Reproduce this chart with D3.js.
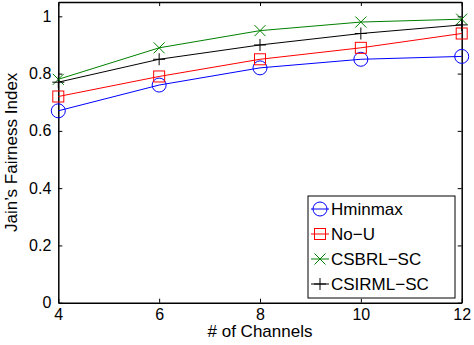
<!DOCTYPE html>
<html>
<head>
<meta charset="utf-8">
<script src="https://cdn.jsdelivr.net/npm/d3@7"></script>
<style>
  body { margin: 0; background: #fff; }
  svg text { font-family: "Liberation Sans", Arial, Helvetica, sans-serif; fill: #000; }
</style>
</head>
<body>
<div id="chart"></div>
<script>
const width = 474;
const height = 345;

// Data
const channels = [4, 6, 8, 10, 12];
const hminmax = [0.67, 0.76, 0.82, 0.85, 0.86];
const noU = [0.72, 0.79, 0.85, 0.89, 0.94];
const csbrlSc = [0.78, 0.89, 0.95, 0.98, 0.99];
const csirmlSc = [0.77, 0.85, 0.90, 0.94, 0.97];
const seriesNames = ["Hminmax", "No\u2212U", "CSBRL\u2212SC", "CSIRML\u2212SC"];
const yTicks = [0, 0.2, 0.4, 0.6, 0.8, 1];
const xTicks = [4, 6, 8, 10, 12];

const series = [
  { name: seriesNames[0], values: hminmax, color: "#0000ff", marker: "circle" },
  { name: seriesNames[1], values: noU, color: "#ff0000", marker: "square" },
  { name: seriesNames[2], values: csbrlSc, color: "#008000", marker: "x" },
  { name: seriesNames[3], values: csirmlSc, color: "#000000", marker: "plus" }
];

const margin = { top: 2, right: 12.3, bottom: 42.3, left: 58.3 };
const innerW = width - margin.left - margin.right;
const innerH = height - margin.top - margin.bottom;

const svg = d3.select("#chart")
  .append("svg")
  .attr("width", width)
  .attr("height", height);

const g = svg.append("g")
  .attr("transform", `translate(${margin.left},${margin.top})`);

const x = d3.scaleLinear().domain([4, 12]).range([0, innerW]);
const y = d3.scaleLinear().domain([0, 1.05]).range([innerH, 0]);

const fmt = d => d === 0 ? "0" : d === 1 ? "1" : d3.format(".1f")(d);

// axes (ticks inward, box on)
const tickLen = 4;
const bottomAxis = g.append("g")
  .attr("transform", `translate(0,${innerH})`)
  .call(d3.axisBottom(x).tickValues(xTicks).tickSizeInner(-tickLen).tickSizeOuter(0).tickPadding(6));
const leftAxis = g.append("g")
  .call(d3.axisLeft(y).tickValues(yTicks).tickFormat(fmt).tickSizeInner(-tickLen).tickSizeOuter(0).tickPadding(7));
const topAxis = g.append("g")
  .call(d3.axisTop(x).tickValues(xTicks).tickFormat("").tickSizeInner(-tickLen).tickSizeOuter(0));
const rightAxis = g.append("g")
  .attr("transform", `translate(${innerW},0)`)
  .call(d3.axisRight(y).tickValues(yTicks).tickFormat("").tickSizeInner(-tickLen).tickSizeOuter(0));

[bottomAxis, leftAxis, topAxis, rightAxis].forEach(a => {
  a.select(".domain").attr("stroke", "#000").attr("stroke-width", 1.5);
  a.selectAll(".tick line").attr("stroke", "#000").attr("stroke-width", 1);
  a.selectAll("text").style("font-size", "16px").attr("fill", "#000");
});

// axis labels
g.append("text")
  .attr("x", innerW / 2)
  .attr("y", innerH + 34)
  .attr("text-anchor", "middle")
  .style("font-size", "17px")
  .text("# of Channels");

g.append("text")
  .attr("transform", `translate(${-41},${innerH / 2}) rotate(-90)`)
  .attr("text-anchor", "middle")
  .style("font-size", "17px")
  .text("Jain\u2019s Fairness Index");

function drawMarker(sel, type, color) {
  if (type === "circle") {
    sel.append("circle").attr("r", 7).attr("fill", "none").attr("stroke", color).attr("stroke-width", 1);
  } else if (type === "square") {
    sel.append("rect").attr("x", -5.5).attr("y", -5.5).attr("width", 11).attr("height", 11)
      .attr("fill", "none").attr("stroke", color).attr("stroke-width", 1);
  } else if (type === "x") {
    sel.append("path").attr("d", "M-5.5,-5.5L5.5,5.5M-5.5,5.5L5.5,-5.5")
      .attr("stroke", color).attr("stroke-width", 1);
  } else {
    sel.append("path").attr("d", "M-6,0L6,0M0,-6L0,6")
      .attr("stroke", color).attr("stroke-width", 1);
  }
}

const line = d3.line()
  .x((d, i) => x(channels[i]))
  .y(d => y(d));

series.forEach(s => {
  g.append("path")
    .datum(s.values)
    .attr("fill", "none")
    .attr("stroke", s.color)
    .attr("stroke-width", 1)
    .attr("d", line);

  g.selectAll(null)
    .data(s.values)
    .enter()
    .append("g")
    .attr("transform", (d, i) => `translate(${x(channels[i])},${y(d)})`)
    .each(function () { drawMarker(d3.select(this), s.marker, s.color); });
});

// legend
const legend = svg.append("g").attr("transform", "translate(308,196)");
legend.append("rect")
  .attr("width", 147)
  .attr("height", 102)
  .attr("fill", "#fff")
  .attr("stroke", "#000")
  .attr("stroke-width", 1);

const item = legend.selectAll(".item")
  .data(series)
  .enter()
  .append("g")
  .attr("class", "item")
  .attr("transform", (d, i) => `translate(0,${13 + i * 25})`);

item.append("line")
  .attr("x1", 3).attr("x2", 21)
  .attr("stroke", d => d.color).attr("stroke-width", 1);
item.append("g")
  .attr("transform", "translate(12,0)")
  .each(function (d) { drawMarker(d3.select(this), d.marker, d.color); });
item.append("text")
  .attr("x", 23)
  .attr("dy", "0.35em")
  .style("font-size", "17px")
  .text(d => d.name);
</script>
</body>
</html>
